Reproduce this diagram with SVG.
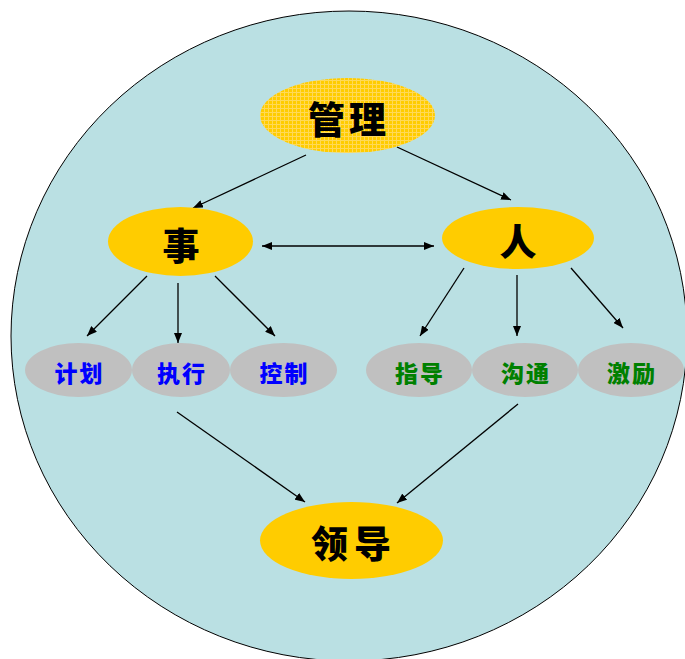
<svg xmlns="http://www.w3.org/2000/svg" width="685" height="659" viewBox="0 0 685 659">
<defs>
<style>
.bg{fill:#BAE0E3;stroke:#000;stroke-width:1}
.y{fill:#FFCC00}
.g{fill:#C0C0C0}
.big{font-family:"Noto Sans CJK SC","Noto Sans CJK JP",sans-serif;font-weight:900;font-size:37px;fill:#000;text-anchor:middle}
.sm{font-family:"Noto Sans CJK SC","Noto Sans CJK JP",sans-serif;font-weight:900;font-size:23px;text-anchor:middle;letter-spacing:2px}
.blue{fill:#0000FF}
.green{fill:#008000}
.c line{stroke:#000;stroke-width:1.3;marker-end:url(#ah)}
</style>
<marker id="ah" markerWidth="10" markerHeight="8" refX="10" refY="4" orient="auto" markerUnits="userSpaceOnUse">
<path d="M0,0 L10,4 L0,8 Z" fill="#000"/>
</marker>
<marker id="ahs" markerWidth="10" markerHeight="8" refX="0" refY="4" orient="auto" markerUnits="userSpaceOnUse">
<path d="M10,0 L0,4 L10,8 Z" fill="#000"/>
</marker>
<pattern id="grid" width="4" height="4" patternUnits="userSpaceOnUse">
<rect width="4" height="4" fill="#FFCC00"/>
<path d="M0,0.5 H4 M0.5,0 V4" stroke="#FFD958" stroke-width="1"/>
</pattern>
</defs>
<ellipse class="bg" cx="349" cy="336" rx="338" ry="325"/>
<g class="c" id="connectors">
<line x1="306" y1="155" x2="193" y2="208"/>
<line x1="397" y1="147" x2="511" y2="200"/>
<line x1="262" y1="246" x2="434" y2="246" marker-start="url(#ahs)"/>
<line x1="147" y1="276" x2="87" y2="336"/>
<line x1="178" y1="283" x2="178" y2="343"/>
<line x1="215" y1="276" x2="275" y2="336"/>
<line x1="464" y1="268" x2="420" y2="336"/>
<line x1="517" y1="275" x2="517" y2="336"/>
<line x1="571" y1="268" x2="623" y2="328"/>
<line x1="177" y1="412" x2="305" y2="502"/>
<line x1="518" y1="404" x2="397" y2="503"/>
</g>
<g id="guanli">
<ellipse cx="347.5" cy="115.5" rx="87.5" ry="37.5" fill="url(#grid)"/>
<text class="big" x="349" y="134" letter-spacing="4">管理</text>
</g>
<g id="shi">
<ellipse class="y" cx="180.5" cy="241.5" rx="72.5" ry="34.5"/>
<text class="big" x="181" y="260">事</text>
</g>
<g id="ren">
<ellipse class="y" cx="518" cy="238" rx="76" ry="31"/>
<text class="big" x="518" y="256">人</text>
</g>
<g id="jihua">
<ellipse class="g" cx="78.5" cy="370" rx="53.5" ry="27"/>
<text class="sm blue" x="79.5" y="382">计划</text>
</g>
<g id="zhixing">
<ellipse class="g" cx="181" cy="370" rx="49" ry="27"/>
<text class="sm blue" x="182" y="382">执行</text>
</g>
<g id="kongzhi">
<ellipse class="g" cx="283.5" cy="370" rx="53.5" ry="27"/>
<text class="sm blue" x="284.5" y="382">控制</text>
</g>
<g id="zhidao">
<ellipse class="g" cx="419" cy="370" rx="53" ry="27"/>
<text class="sm green" x="420" y="382">指导</text>
</g>
<g id="goutong">
<ellipse class="g" cx="525" cy="370" rx="53" ry="27"/>
<text class="sm green" x="526" y="382">沟通</text>
</g>
<g id="jili">
<ellipse class="g" cx="631" cy="370" rx="53" ry="27"/>
<text class="sm green" x="632" y="382">激励</text>
</g>
<g id="lingdao">
<ellipse class="y" cx="351.5" cy="540.5" rx="91.5" ry="38.5"/>
<text class="big" x="354" y="558" letter-spacing="6">领导</text>
</g>
</svg>
